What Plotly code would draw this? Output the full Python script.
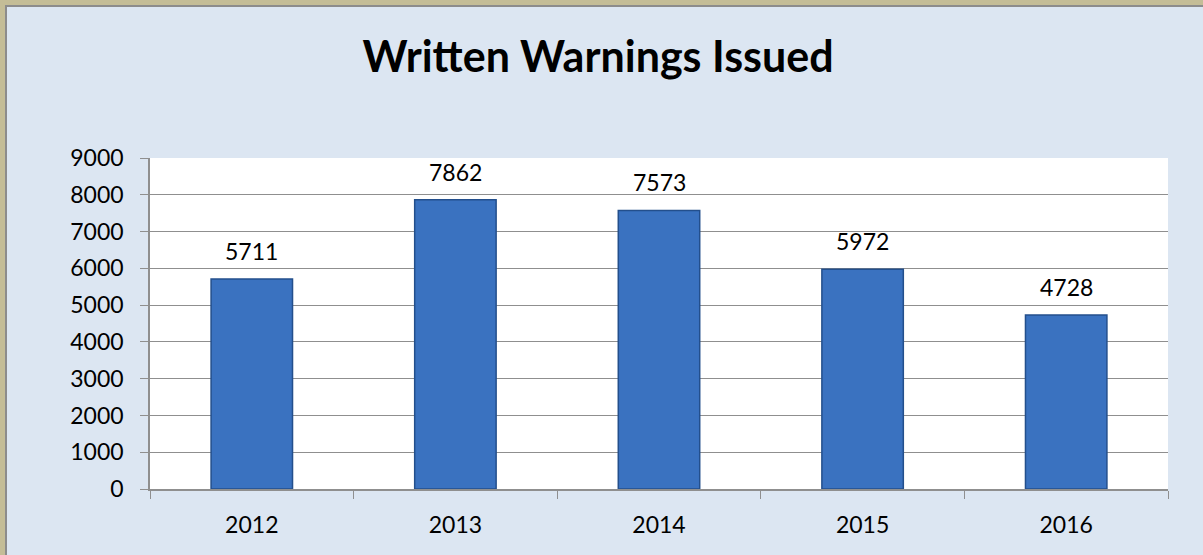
"""Written warnings issued per year, Excel-style column chart."""

import plotly.graph_objects as go

years = ["2012", "2013", "2014", "2015", "2016"]
warnings = [5711, 7862, 7573, 5972, 4728]
y_ticks = list(range(0, 9001, 1000))

W, H = 1203, 555
PLOT_L, PLOT_R, PLOT_T, PLOT_B = 150, 1168, 158, 489

BG = "#dce6f2"
BORDER_TAN = "#c4bd97"
BORDER_GRAY = "#8c8c8c"
GRID = "#8f8f8f"
FONT = "Lato"


def px_x(px):
    return (px - PLOT_L) / (PLOT_R - PLOT_L)


def px_y(py):
    return (PLOT_B - py) / (PLOT_B - PLOT_T)


fig = go.Figure(
    go.Bar(
        x=years,
        y=warnings,
        width=0.4,
        marker=dict(color="#3a72c0", line=dict(color="#234f8c", width=1.5)),
        hoverinfo="x+y",
    )
)

# value labels sit a little higher above the bars than plotly's "outside" text
for i, val in enumerate(warnings):
    fig.add_annotation(
        x=i, y=val, text=str(val), showarrow=False,
        yanchor="bottom", yshift=12,
        font=dict(family=FONT, size=23, color="black"),
    )

# frame: tan strip with a grey inner line along the top and left edges
for x0, x1, y0, y1, col in [
    (0, W, 0, 5, BORDER_TAN),
    (0, W, 5, 7, BORDER_GRAY),
    (0, 5, 0, H, BORDER_TAN),
    (5, 7, 5, H, BORDER_GRAY),
]:
    fig.add_shape(
        type="rect", xref="paper", yref="paper",
        x0=px_x(x0), x1=px_x(x1), y0=px_y(y1), y1=px_y(y0),
        fillcolor=col, line=dict(width=0), layer="above",
    )

fig.update_layout(
    width=W,
    height=H,
    margin=dict(l=PLOT_L, r=W - PLOT_R, t=PLOT_T, b=H - PLOT_B, pad=0),
    paper_bgcolor=BG,
    plot_bgcolor="white",
    showlegend=False,
    title=dict(
        text="<b>Written Warnings Issued</b>",
        x=598 / W, xanchor="center",
        yref="container", y=1 - 57 / H, yanchor="middle",
        font=dict(family=FONT, size=43, color="black"),
    ),
    font=dict(family=FONT, size=23, color="black"),
)

fig.update_xaxes(
    type="category",
    range=[-0.5, len(years) - 0.5],
    showgrid=False,
    showline=True, linecolor=GRID, linewidth=1.5,
    ticks="outside", tickson="boundaries", ticklen=8, tickcolor=GRID,
    ticklabelstandoff=15,
    tickfont=dict(family=FONT, size=23, color="black"),
)
fig.update_yaxes(
    range=[0, 9000],
    tickvals=y_ticks,
    showgrid=True, gridcolor=GRID, gridwidth=1,
    zeroline=False,
    showline=True, linecolor=GRID, linewidth=1.5,
    ticks="outside", ticklen=8, tickcolor=GRID,
    ticklabelstandoff=12,
    tickfont=dict(family=FONT, size=23, color="black"),
)

fig.write_html(
    "out.html",
    config={"displayModeBar": False},
    post_script="document.body.style.margin = '0';",
)
